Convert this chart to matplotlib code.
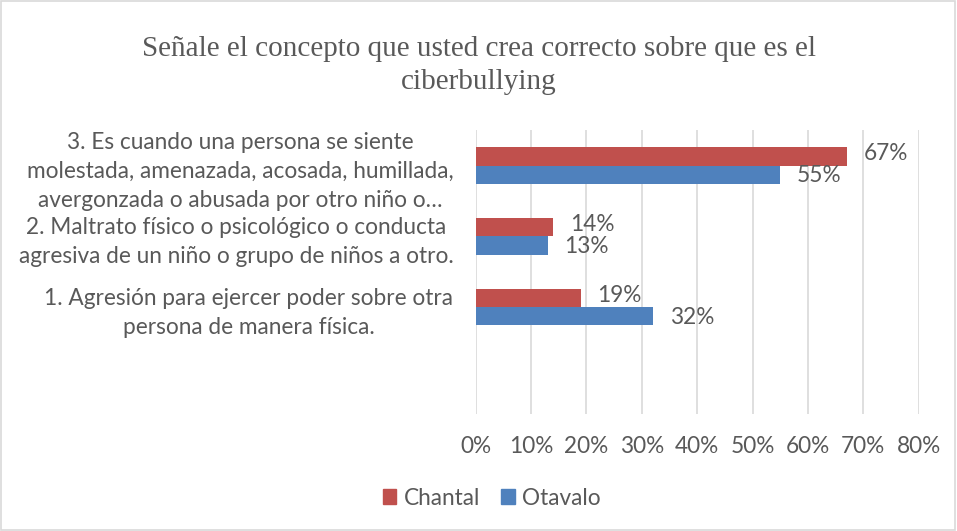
import matplotlib.pyplot as plt
from matplotlib.patches import Rectangle, Patch

# datos
categorias = [
    "",
    "1. Agresión para ejercer poder sobre otra\npersona de manera física.",
    "2. Maltrato físico o psicológico o conducta\nagresiva de un niño o grupo de niños a otro.",
    "3. Es cuando una persona se siente\nmolestada, amenazada, acosada, humillada,\navergonzada o abusada por otro niño o…",
]
chantal = [None, 0.19, 0.14, 0.67]
otavalo = [None, 0.32, 0.13, 0.55]
xticks = [0, 0.1, 0.2, 0.3, 0.4, 0.5, 0.6, 0.7, 0.8]

rojo = "#C0504D"
azul = "#4F81BD"
gris = "#595959"
fuente = "Lato"
tam = 16.3

fig = plt.figure(figsize=(9.57, 5.31), dpi=100)
ax = fig.add_axes([0.497, 0.221, 0.463, 0.534])

h = 0.255
for i in range(len(categorias)):
    if chantal[i] is None:
        continue
    ax.barh(i + h / 2, chantal[i], height=h, color=rojo, zorder=3)
    ax.barh(i - h / 2, otavalo[i], height=h, color=azul, zorder=3)
    ax.annotate(f"{chantal[i]:.0%}", (chantal[i], i + h / 2), xytext=(12, 2),
                textcoords="offset points", va="center", ha="left",
                fontsize=tam, color=gris, family=fuente)
    ax.annotate(f"{otavalo[i]:.0%}", (otavalo[i], i - h / 2), xytext=(12, -1),
                textcoords="offset points", va="center", ha="left",
                fontsize=tam, color=gris, family=fuente)

ax.set_xlim(0, 0.8)
ax.set_ylim(-0.5, len(categorias) - 0.5)
ax.set_xticks(xticks)
ax.set_xticklabels([f"{t:.0%}" for t in xticks], fontsize=tam, color=gris, family=fuente)
ax.set_yticks(range(len(categorias)))
ax.set_yticklabels(categorias, fontsize=tam, color=gris, family=fuente,
                   multialignment="center", linespacing=1.45)
ax.tick_params(axis="both", length=0)
ax.tick_params(axis="x", pad=16)
ax.tick_params(axis="y", pad=16)
ax.grid(axis="x", color="#D9D9D9", linewidth=1.2, zorder=0)
for s in ax.spines.values():
    s.set_visible(False)

fig.text(0.5, 0.877, "Señale el concepto que usted crea correcto sobre que es el\nciberbullying",
         ha="center", va="center", fontsize=21, color=gris, family="Liberation Serif",
         linespacing=1.32)

handles = [Patch(color=rojo, label="Chantal"), Patch(color=azul, label="Otavalo")]
leg = fig.legend(handles=handles, loc="center", bbox_to_anchor=(0.514, 0.062), ncol=2,
                 frameon=False, prop={"family": fuente, "size": tam}, handlelength=0.6,
                 handleheight=0.6, columnspacing=0.9, handletextpad=0.35)
for t in leg.get_texts():
    t.set_color(gris)

fig.patches.append(Rectangle((0.001, 0.001), 0.997, 0.997, transform=fig.transFigure,
                             fill=False, edgecolor="#D9D9D9", linewidth=1.2))

fig.savefig("out.png", dpi=100, facecolor="white")
